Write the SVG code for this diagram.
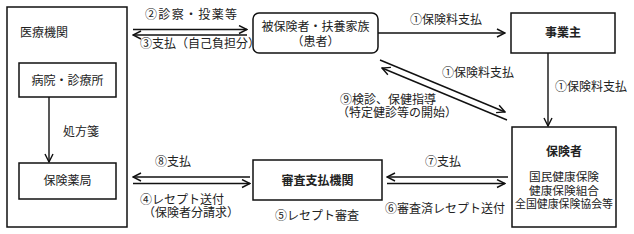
<svg xmlns="http://www.w3.org/2000/svg" width="634" height="234" viewBox="0 0 634 234">
<style>
text{font-family:"Noto Sans CJK JP","Noto Sans",sans-serif;font-size:12px;fill:#222}
.b{font-weight:bold}
.s{font-size:11px}
.box{fill:#fff;stroke:#111;stroke-width:1.5}
.ln{fill:none;stroke:#111;stroke-width:1.4}
</style>
<defs>
<marker id="ah" viewBox="0 0 10 10" refX="9" refY="5" markerWidth="10" markerHeight="10" markerUnits="userSpaceOnUse" orient="auto">
<path d="M1,1 L9,5 L1,9" fill="none" stroke="#111" stroke-width="1.4"/>
</marker>
</defs>
<g id="iryo">
<rect class="box" x="7" y="7" width="120" height="220"/>
<text x="20" y="37">医療機関</text>
</g>
<g id="byoin">
<rect class="box" x="19" y="63" width="97" height="34"/>
<text x="67.5" y="84.5" text-anchor="middle">病院・診療所</text>
</g>
<g id="yakkyoku">
<rect class="box" x="19" y="163" width="97" height="36"/>
<text x="67.5" y="185" text-anchor="middle">保険薬局</text>
</g>
<g id="kanja">
<rect class="box" x="253" y="13" width="125" height="40" rx="6"/>
<text x="315.5" y="31" text-anchor="middle">被保険者・扶養家族</text>
<text x="315.5" y="46" text-anchor="middle">（患者）</text>
</g>
<g id="jigyonushi">
<rect class="box" x="511" y="13" width="104" height="40"/>
<text class="b" x="563" y="37" text-anchor="middle">事業主</text>
</g>
<g id="hokensha">
<rect class="box" x="512" y="127" width="104" height="100"/>
<text class="b" x="564" y="156" text-anchor="middle">保険者</text>
<text class="s" x="564" y="181" text-anchor="middle" textLength="70" lengthAdjust="spacingAndGlyphs">国民健康保険</text>
<text class="s" x="564" y="194.5" text-anchor="middle" textLength="70" lengthAdjust="spacingAndGlyphs">健康保険組合</text>
<text class="s" x="564" y="208" text-anchor="middle" textLength="98" lengthAdjust="spacingAndGlyphs">全国健康保険協会等</text>
</g>
<g id="shinsa">
<rect class="box" x="253" y="160" width="129" height="40"/>
<text class="b" x="317.5" y="185" text-anchor="middle">審査支払機関</text>
</g>
<g id="connectors">
<line class="ln" x1="49" y1="97" x2="49" y2="162" marker-end="url(#ah)"/>
<line class="ln" x1="133" y1="29.5" x2="247" y2="29.5" marker-end="url(#ah)"/>
<line class="ln" x1="247" y1="35" x2="133" y2="35" marker-end="url(#ah)"/>
<line class="ln" x1="378" y1="33" x2="505" y2="33" marker-end="url(#ah)"/>
<line class="ln" x1="548" y1="53" x2="548" y2="126" marker-end="url(#ah)"/>
<line class="ln" x1="380" y1="60" x2="505" y2="112" marker-end="url(#ah)"/>
<line class="ln" x1="507" y1="120" x2="382" y2="68" marker-end="url(#ah)"/>
<line class="ln" x1="250" y1="177" x2="133" y2="177" marker-end="url(#ah)"/>
<line class="ln" x1="133" y1="183.5" x2="250" y2="183.5" marker-end="url(#ah)"/>
<line class="ln" x1="508" y1="177" x2="387" y2="177" marker-end="url(#ah)"/>
<line class="ln" x1="387" y1="183.5" x2="505" y2="183.5" marker-end="url(#ah)"/>
</g>
<g id="labels">
<text x="63" y="136">処方箋</text>
<text x="145" y="19" textLength="92" lengthAdjust="spacing">②診察・投薬等</text>
<text x="140" y="48">③支払（自己負担分）</text>
<text x="410" y="24">①保険料支払</text>
<text x="555" y="91">①保険料支払</text>
<text x="442" y="77">①保険料支払</text>
<text x="340" y="104">⑨検診、保健指導</text>
<text x="337" y="117">（特定健診等の開始）</text>
<text x="155" y="166">⑧支払</text>
<text x="140" y="204">④レセプト送付</text>
<text x="143" y="217">（保険者分請求）</text>
<text x="275" y="220">⑤レセプト審査</text>
<text x="425" y="166">⑦支払</text>
<text x="385" y="213">⑥審査済レセプト送付</text>
</g>
</svg>
